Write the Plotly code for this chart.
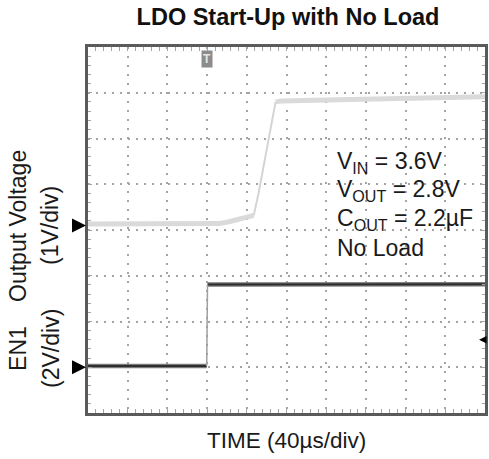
import plotly.graph_objects as go

# Time base (µs) and captured waveforms
out_t = [0, 40, 80, 120, 132, 142, 152, 162, 167, 172, 180, 189, 195, 240, 280, 320, 360, 400]
out_v = [0.03, 0.03, 0.03, 0.03, 0.04, 0.08, 0.14, 0.19, 0.22, 0.72, 1.65, 2.70, 2.72, 2.74, 2.76, 2.78, 2.80, 2.81]

en_t = [0, 40, 80, 119.6, 120.4, 160, 200, 240, 280, 320, 360, 400]
en_v = [0.05, 0.05, 0.05, 0.05, 3.62, 3.62, 3.62, 3.62, 3.63, 3.63, 3.63, 3.63]

trigger_t = 120      # µs, trigger position
trigger_level = 1.2  # V on EN1

title_text = "LDO Start-Up with No Load"
x_label = "TIME (40µs/div)"
cond_lines = ["V<sub>IN</sub> = 3.6V", "V<sub>OUT</sub> = 2.8V", "C<sub>OUT</sub> = 2.2µF", "No Load"]

FONT = "Liberation Sans, Arial, Helvetica, sans-serif"
W, H = 489, 459
M_L, M_R, M_T, M_B = 88, 1, 47, 46

fig = go.Figure()

# Output voltage (CH1, 1 V/div): persistent phosphor band on flat parts, thin on fast ramp
fig.add_trace(go.Scatter(x=out_t[:9], y=out_v[:9], mode="lines",
                         line=dict(color="#dadada", width=5), yaxis="y", hoverinfo="skip"))
fig.add_trace(go.Scatter(x=out_t[8:12], y=out_v[8:12], mode="lines",
                         line=dict(color="#d4d4d4", width=2), yaxis="y", hoverinfo="skip"))
fig.add_trace(go.Scatter(x=out_t[11:], y=out_v[11:], mode="lines",
                         line=dict(color="#dadada", width=5), yaxis="y", hoverinfo="skip"))

# EN1 (CH2, 2 V/div)
for seg in (slice(0, 4), slice(4, None)):
    fig.add_trace(go.Scatter(x=en_t[seg], y=en_v[seg], mode="lines",
                             line=dict(color="#7a7a7a", width=4.5), yaxis="y2", hoverinfo="skip"))
    fig.add_trace(go.Scatter(x=en_t[seg], y=en_v[seg], mode="lines",
                             line=dict(color="#2e2e2e", width=2), yaxis="y2", hoverinfo="skip"))
fig.add_trace(go.Scatter(x=en_t[3:5], y=en_v[3:5], mode="lines",
                         line=dict(color="#a0a0a0", width=1.5), yaxis="y2", hoverinfo="skip"))

grid_col = "#a4a4a4"
frame_col = "#5a5a5a"

annotations = []
# channel ground markers on the left
for yref in ("y", "y2"):
    annotations.append(dict(x=0, xref="x", y=0, yref=yref, text="", showarrow=True,
                            ax=-16, ay=0, arrowhead=2, arrowsize=1.4, arrowwidth=2,
                            arrowcolor="black", standoff=2))
# trigger level marker on the right
annotations.append(dict(x=394, xref="x", y=trigger_level, yref="y2", text="", showarrow=True,
                        ax=6, ay=0, arrowhead=2, arrowsize=1.0, arrowwidth=1.5,
                        arrowcolor="black", standoff=0))
# trigger position marker at the top
annotations.append(dict(x=trigger_t, xref="x", y=1, yref="paper", yanchor="top", yshift=-3,
                        text="<b>T</b>", showarrow=False, bgcolor="#8c8c8c",
                        font=dict(family=FONT, size=12, color="#e6e6e6"), borderpad=1))

# channel labels
for txt, xs, y in (("Output Voltage", -70, 0.511), ("(1V/div)", -38, 0.511),
                   ("EN1", -70, 0.175), ("(2V/div)", -37, 0.175)):
    annotations.append(dict(x=0, xref="paper", xshift=xs, y=y, yref="paper",
                            text=txt, textangle=-90, showarrow=False,
                            xanchor="center", yanchor="middle",
                            font=dict(family=FONT, size=23, color="#1a1a1a")))

# test conditions
for i, txt in enumerate(cond_lines):
    annotations.append(dict(x=(337 - M_L) / 400 * 400, xref="x", y=1 - (162 + 28.5 * i - M_T) / 366,
                            yref="paper", text=txt, showarrow=False, xanchor="left",
                            yanchor="middle", font=dict(family=FONT, size=23, color="#1a1a1a")))

# time axis label
annotations.append(dict(x=0.5, xref="paper", y=-(440 - 413) / 366, yref="paper",
                        text=x_label, showarrow=False, xanchor="center", yanchor="middle",
                        font=dict(family=FONT, size=22.5, color="#1a1a1a")))

fig.update_layout(
    width=W, height=H,
    margin=dict(l=M_L, r=M_R, t=M_T, b=M_B),
    paper_bgcolor="white", plot_bgcolor="white",
    showlegend=False,
    title=dict(text=title_text, x=(M_L + 200) / W, xanchor="center",
               y=1 - 17 / H, yanchor="middle",
               font=dict(family=FONT, size=23.5, color="#111111", weight="bold")),
    xaxis=dict(range=[0, 400], tick0=0, dtick=40, showticklabels=False,
               showgrid=True, gridcolor=grid_col, gridwidth=1.5, griddash="2px,7px",
               zeroline=False, showline=True, linecolor=frame_col, linewidth=2.5,
               mirror="allticks", ticks="inside", ticklen=4, tickcolor=grid_col,
               minor=dict(dtick=8, ticks="inside", ticklen=3, tickcolor=grid_col, showgrid=False)),
    yaxis=dict(range=[-4.1, 3.9], tick0=-4.1, dtick=1, showticklabels=False,
               showgrid=True, gridcolor=grid_col, gridwidth=1.5, griddash="2px,6px",
               zeroline=False, showline=True, linecolor=frame_col, linewidth=2.5,
               mirror="allticks", ticks="inside", ticklen=4, tickcolor=grid_col,
               minor=dict(tick0=-4.1, dtick=0.2, ticks="inside", ticklen=3,
                          tickcolor=grid_col, showgrid=False)),
    yaxis2=dict(range=[-2, 14], overlaying="y", visible=False, showgrid=False, zeroline=False),
    annotations=annotations,
)

fig.write_html("out.html")
